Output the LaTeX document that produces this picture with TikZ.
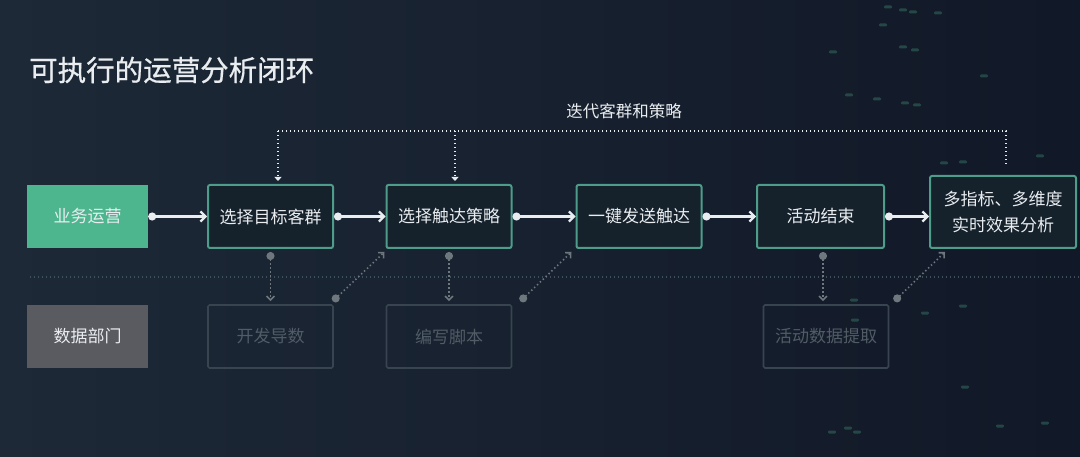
\documentclass[tikz,border=0pt]{standalone}
\usepackage{fontspec}
\setmainfont{Noto Sans CJK SC}
\newfontfamily\titlefont[BoldFont={Noto Sans CJK SC}, BoldFeatures={FakeBold=0.7}]{Noto Sans CJK SC}
\usetikzlibrary{arrows.meta}

\definecolor{bgleft}{HTML}{1D2937}
\definecolor{bgright}{HTML}{111827}
\definecolor{opgreen}{HTML}{4DB68E}
\definecolor{deptgray}{HTML}{5A5B61}
\definecolor{tealline}{HTML}{4E9C8A}
\definecolor{boxfill}{HTML}{15212B}
\definecolor{fainttext}{HTML}{505C66}
\definecolor{faintline}{HTML}{38444F}
\definecolor{linkgray}{HTML}{6E777E}
\definecolor{sepline}{HTML}{3E5159}
\definecolor{whitetext}{HTML}{E9EDF0}
\definecolor{speck}{HTML}{4FAE8A}

\begin{document}
\begin{tikzpicture}[x=1pt,y=1pt,
		boxtext/.style={font=\fontsize{17}{26}\selectfont, inner sep=0pt, align=center},
		opbox/.style={boxtext, fill=opgreen, text=whitetext, minimum width=121pt, minimum height=63pt},
		deptbox/.style={boxtext, fill=deptgray, text=whitetext, minimum width=121pt, minimum height=63pt},
		stepbox/.style={boxtext, draw=tealline, line width=2pt, fill=boxfill, text=whitetext, rounded corners=2pt, minimum width=125pt, minimum height=63pt},
		faintbox/.style={boxtext, draw=faintline, line width=1.6pt, text=fainttext, rounded corners=1.5pt, minimum width=125pt, minimum height=63pt},
		flow/.style={draw=whitetext, line width=2.2pt, {Circle[length=8pt]}-{Straight Barb[length=5pt,width=10pt]}},
		datalink/.style={draw=linkgray, line width=1.6pt, dash pattern=on 1.4pt off 2.6pt, {Circle[length=8pt]}-{Straight Barb[length=4pt,width=8pt]}},
		loopline/.style={draw=whitetext, line width=1.8pt, dash pattern=on 1.4pt off 2.6pt},
		speckdot/.style={fill=speck, rounded corners=1.2pt, opacity=0.3}]
		% background
		\shade[left color=bgleft, right color=bgright] (0,0) rectangle (1080,456);
		\useasboundingbox (0,0) rectangle (1080,456);
		\foreach \sx/\sy in {888/449, 903/446, 913/444, 938/443, 883/431, 903/409, 915/406, 833/404, 849/361, 877/357, 905/353, 917/351, 944/293, 963/294, 984/380, 925/143, 854/156, 855/136, 963/150, 965/69, 857/24, 1000/30, 1045/33, 832/24, 848/28, 1040/300, 1060/250}
			\fill[speckdot] (\sx-4,\sy-1.5) rectangle (\sx+4,\sy+1.5);
		\node[anchor=west, text=whitetext, font=\titlefont\bfseries\fontsize{28.5}{30}\selectfont, inner sep=0pt] (title) at (29,386) {可执行的运营分析闭环};
		% business row
		\node[opbox] (ops) at (87.5,239.5) {业务运营};
		\node[stepbox] (target) at (270.5,239.5) {选择目标客群};
		\node[stepbox] (strategy) at (449,239.5) {选择触达策略};
		\node[stepbox] (send) at (639,239.5) {一键发送触达};
		\node[stepbox, minimum width=127pt] (finish) at (820.5,239.5) {活动结束};
		\node[stepbox, minimum width=146pt, minimum height=72pt] (analysis) at (1003,244) {多指标、多维度\\实时效果分析};
		\draw[flow] (ops) -- (target);
		\draw[flow] (target) -- (strategy);
		\draw[flow] (strategy) -- (send);
		\draw[flow] (send) -- (finish);
		\draw[flow] (finish.east) -- (finish.east -| analysis.west);
		% separator
		\draw[sepline, line width=1.6pt, dash pattern=on 1.4pt off 2.6pt] (30,179) -- (1080,179);
		% data row
		\node[deptbox] (dept) at (87.5,119.5) {数据部门};
		\node[faintbox] (export) at (270.5,119.5) {开发导数};
		\node[faintbox] (script) at (449,119.5) {编写脚本};
		\node[faintbox] (extract) at (826,119.5) {活动数据提取};
		\draw[datalink] ([yshift=-3pt]target.south) -- ([yshift=3pt]export.north);
		\draw[datalink] ([shift={(-1,3)}]export.north east) -- ([shift={(-1,-3)}]strategy.south west);
		\draw[datalink] ([yshift=-3pt]strategy.south) -- ([yshift=3pt]script.north);
		\draw[datalink] ([shift={(8,3)}]script.north east) -- ([shift={(-4,-3)}]send.south west);
		\draw[datalink] ([shift={(2.5,-3)}]finish.south) -- ([shift={(-3,3)}]extract.north);
		\draw[datalink] ([shift={(5,3)}]extract.north east) -- ([shift={(16,-3)}]analysis.south west);
		% iteration loop
		\coordinate (loopR) at (1006,325);
		\draw[loopline] ([xshift=3pt,yshift=11pt]analysis.north) -- (loopR) -- (278,325);
		\draw[loopline, -{Triangle[length=4pt,width=7pt]}] (278,325) -- ([xshift=7.5pt,yshift=3pt]target.north);
		\draw[loopline, -{Triangle[length=4pt,width=7pt]}] (455,325) -- ([xshift=6pt,yshift=3pt]strategy.north);
		\node[text=whitetext, font=\fontsize{16.5}{18}\selectfont, inner sep=0pt] (looplabel) at (624,345) {迭代客群和策略};
	\end{tikzpicture}
\end{document}
